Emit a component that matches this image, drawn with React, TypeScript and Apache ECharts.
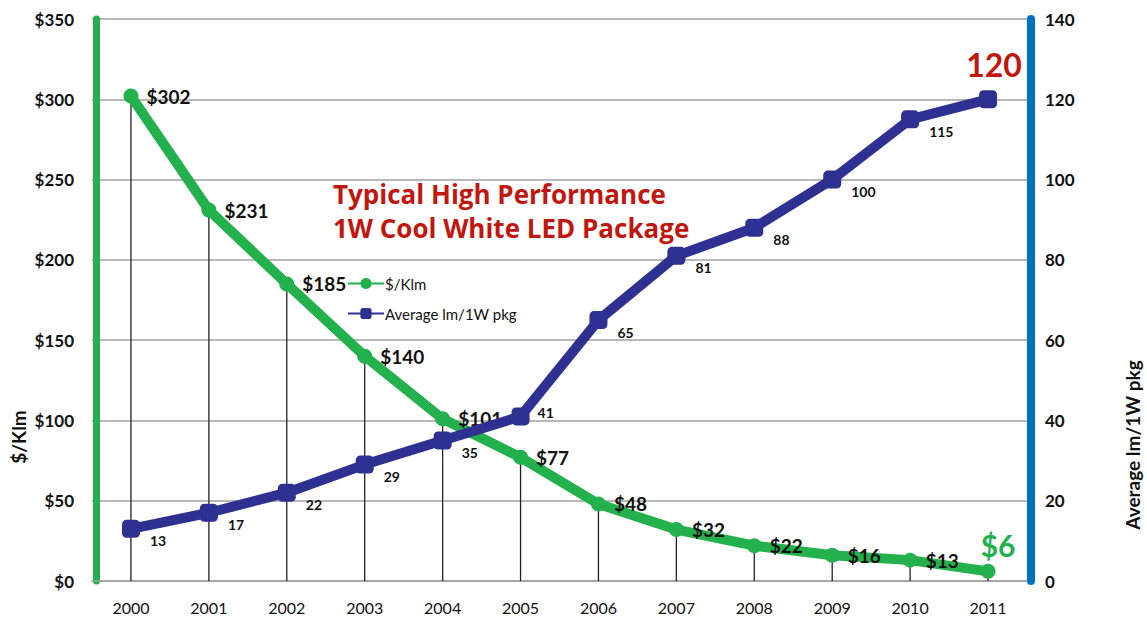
import React, { useEffect, useRef } from "react";
import * as echarts from "echarts";

const years = ["2000", "2001", "2002", "2003", "2004", "2005", "2006", "2007", "2008", "2009", "2010", "2011"];
const costPerKlm = [302, 231, 185, 140, 101, 77, 48, 32, 22, 16, 13, 6];
const lmPerW = [13, 17, 22, 29, 35, 41, 65, 81, 88, 100, 115, 120];
const leftTicks = { min: 0, max: 350, interval: 50 };
const rightTicks = { min: 0, max: 140, interval: 20 };

const GREEN = "#22b14c";
const BLUE = "#2e3192";
const RED = "#c0170f";
const FONT = "Lato, 'Open Sans', sans-serif";

export default function App() {
  const ref = useRef<HTMLDivElement>(null);
  useEffect(() => {
    if (!ref.current) return;
    const chart = echarts.init(ref.current, null, { renderer: "svg" });
    const last = years.length - 1;
    chart.setOption({
      animation: false,
      backgroundColor: "#ffffff",
      grid: { left: 92, right: 120, top: 19, bottom: 36 },
      legend: {
        left: 342,
        top: 271,
        orient: "vertical",
        itemWidth: 36,
        itemHeight: 14,
        itemGap: 15,
        textStyle: { fontFamily: FONT, fontSize: 15, color: "#111", padding: [0, 0, 0, -4] },
        data: ["$/Klm", "Average lm/1W pkg"],
      },
      xAxis: {
        type: "category",
        data: years,
        boundaryGap: true,
        axisLine: { show: true, lineStyle: { color: "#a0a0a0", width: 1.5 } },
        axisTick: { show: false },
        axisLabel: { fontFamily: FONT, fontSize: 16, color: "#111", margin: 18 },
      },
      yAxis: [
        {
          type: "value",
          ...leftTicks,
          position: "left",
          offset: -4,
          axisLine: { show: true, lineStyle: { color: GREEN, width: 7 } },
          axisTick: { show: false },
          axisLabel: {
            fontFamily: FONT,
            fontSize: 17,
            fontWeight: "bold",
            color: "#111",
            margin: 22,
            formatter: (v: number) => "$" + v,
          },
          splitLine: { show: true, lineStyle: { color: "#a0a0a0", width: 1.5 } },
        },
        {
          type: "value",
          ...rightTicks,
          position: "right",
          offset: 4,
          axisLine: { show: true, lineStyle: { color: "#0070c0", width: 8 } },
          axisTick: { show: false },
          axisLabel: { fontFamily: FONT, fontSize: 17, fontWeight: "bold", color: "#111", margin: 14 },
          splitLine: { show: false },
        },
      ],
      graphic: [
        {
          type: "text",
          left: 333,
          top: 177,
          style: {
            text: "Typical High Performance\n1W Cool White LED Package",
            font: "bold 26px 'Open Sans', sans-serif",
            fill: RED,
            lineHeight: 34,
          },
        },
        {
          type: "text",
          x: 18,
          y: 437,
          rotation: Math.PI / 2,
          style: {
            text: "$/Klm",
            font: "bold 19px " + FONT,
            fill: "#111",
            align: "center",
            verticalAlign: "middle",
          },
        },
        {
          type: "text",
          x: 1132,
          y: 445,
          rotation: Math.PI / 2,
          style: {
            text: "Average lm/1W pkg",
            font: "bold 19px " + FONT,
            fill: "#111",
            align: "center",
            verticalAlign: "middle",
          },
        },
      ],
      series: [
        {
          name: "drop",
          type: "bar",
          yAxisIndex: 0,
          data: costPerKlm,
          barWidth: 1.3,
          itemStyle: { color: "#222" },
          silent: true,
          z: 1,
        },
        {
          name: "$/Klm",
          type: "line",
          yAxisIndex: 0,
          data: costPerKlm.map((v, i) =>
            i === last
              ? {
                  value: v,
                  label: {
                    position: "top",
                    offset: [10, 4],
                    color: GREEN,
                    fontSize: 30,
                  },
                }
              : v
          ),
          symbol: "circle",
          symbolSize: 15,
          lineStyle: { color: GREEN, width: 10 },
          itemStyle: { color: GREEN },
          label: {
            show: true,
            position: "right",
            distance: 8,
            fontFamily: FONT,
            fontSize: 19,
            fontWeight: "bold",
            color: "#111",
            formatter: (p: any) => "$" + p.value,
          },
          z: 3,
        },
        {
          name: "Average lm/1W pkg",
          type: "line",
          yAxisIndex: 1,
          data: lmPerW.map((v, i) =>
            i === last
              ? {
                  value: v,
                  label: {
                    position: "top",
                    offset: [6, -2],
                    color: RED,
                    fontSize: 32,
                  },
                }
              : i === 5
              ? { value: v, label: { offset: [0, -4] } }
              : v
          ),
          symbol: "roundRect",
          symbolSize: 18,
          lineStyle: { color: BLUE, width: 10 },
          itemStyle: { color: BLUE },
          label: {
            show: true,
            position: "right",
            distance: 8,
            offset: [2, 12],
            fontFamily: FONT,
            fontSize: 14,
            fontWeight: "bold",
            color: "#111",
          },
          z: 4,
        },
      ],
    });
    return () => chart.dispose();
  }, []);
  return <div ref={ref} style={{ position: "fixed", left: 0, top: 0, width: 1147, height: 617 }} />;
}
